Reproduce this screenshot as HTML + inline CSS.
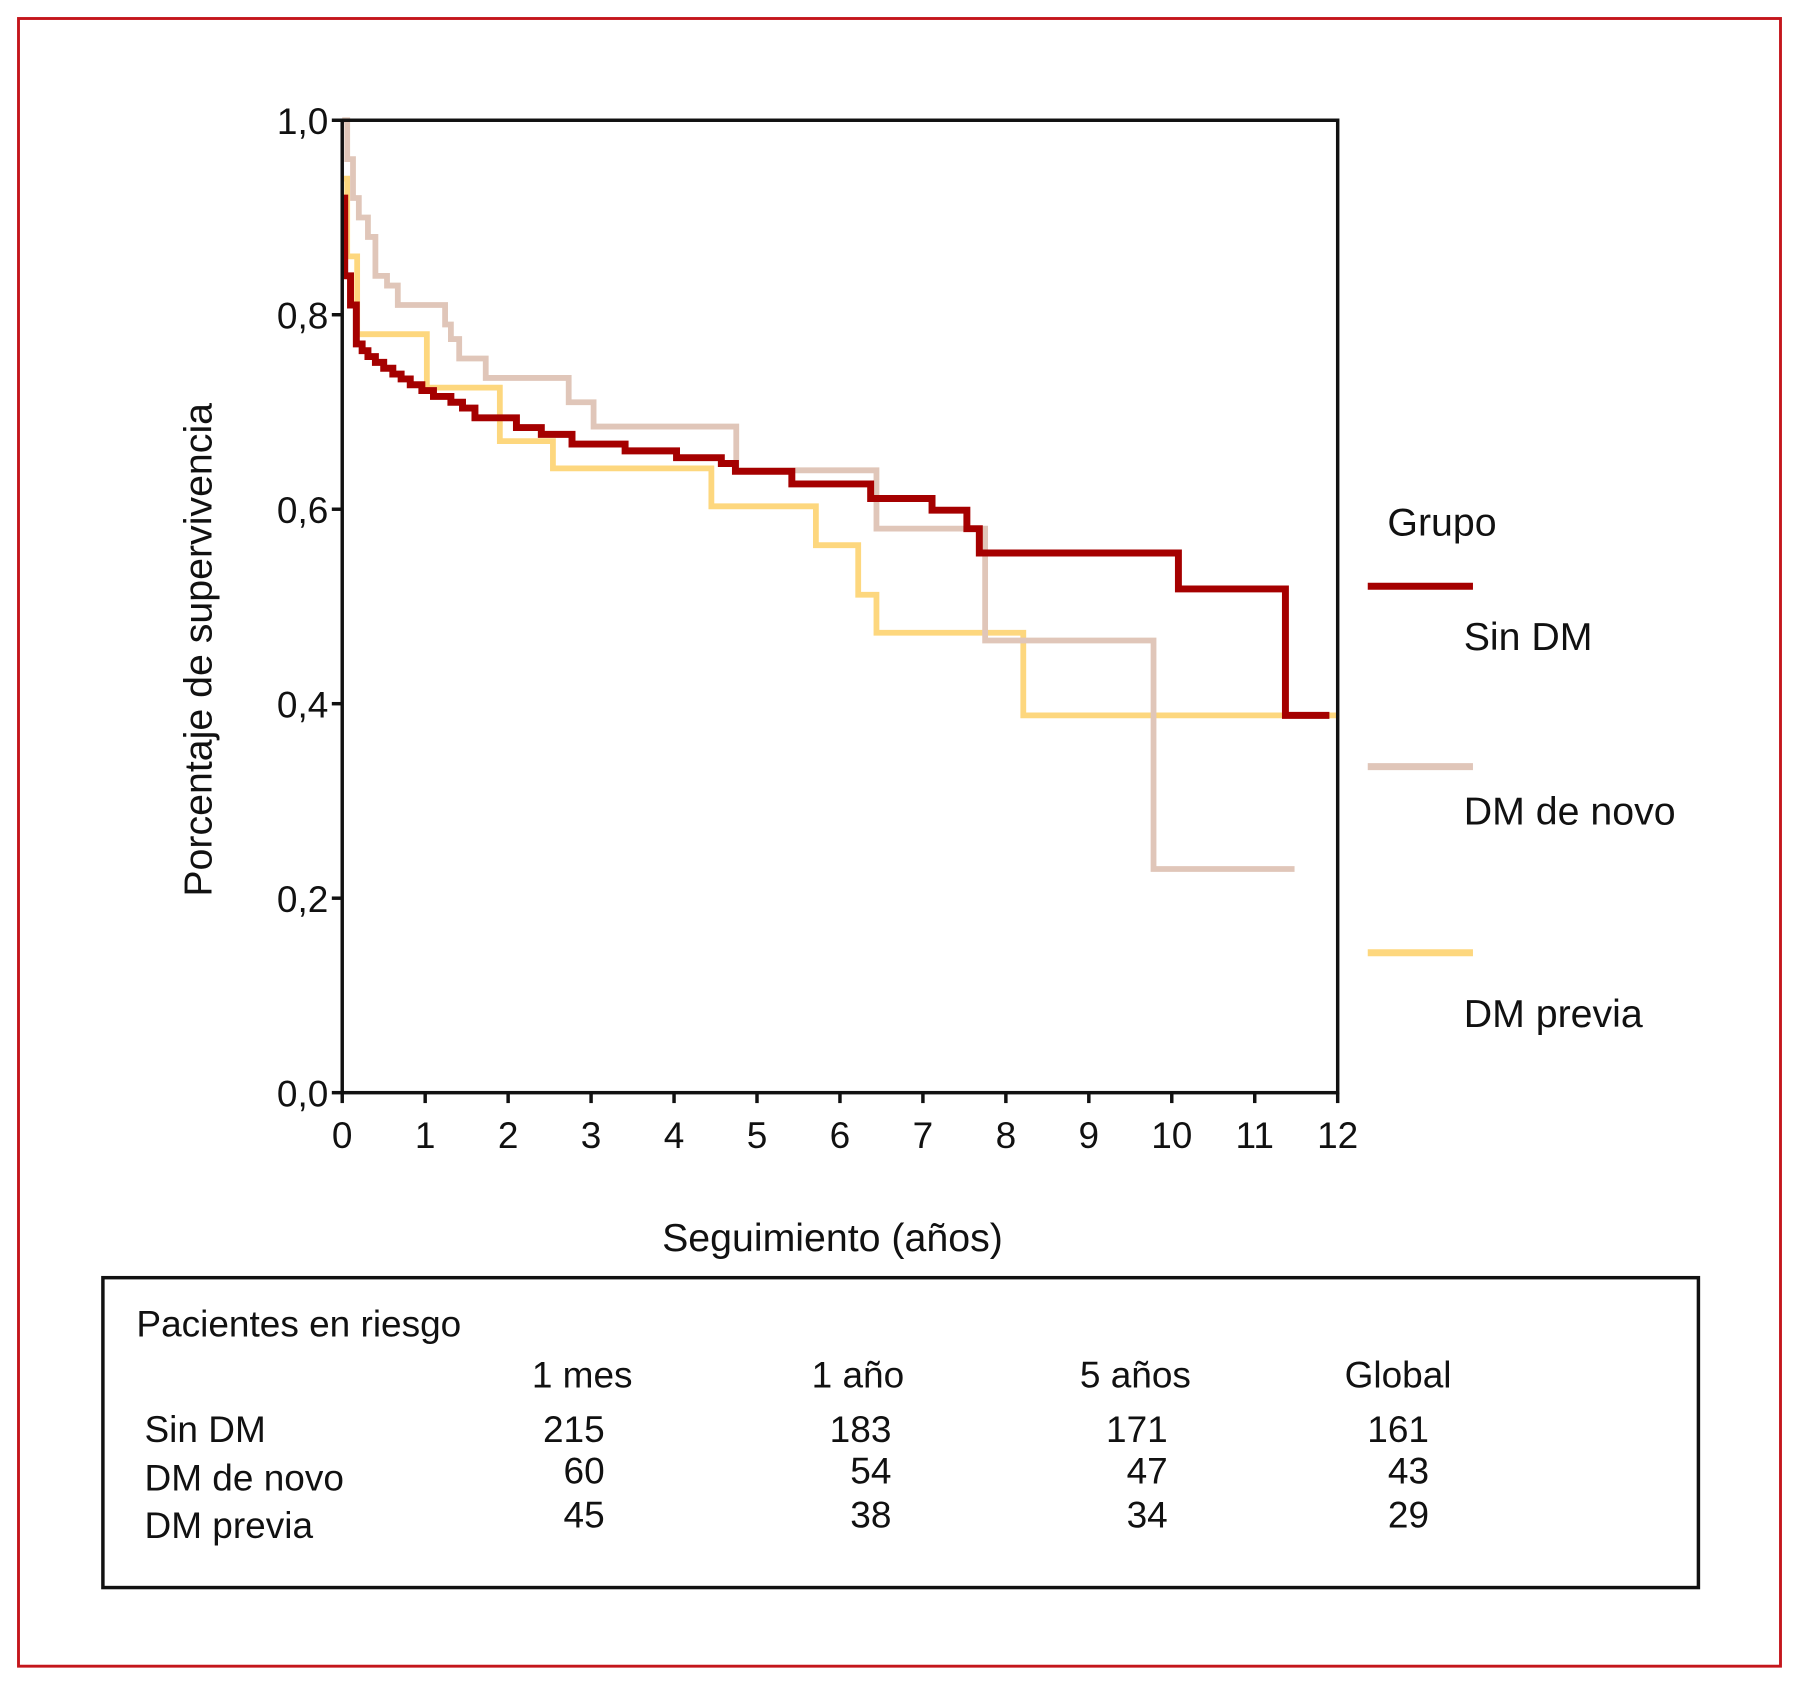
<!DOCTYPE html>
<html><head><meta charset="utf-8"><style>
html,body{margin:0;padding:0;background:#fff;}
svg{display:block;}
text{font-family:"Liberation Sans Narrow","Liberation Sans",sans-serif;fill:#111;}
</style></head><body>
<svg id="chart" width="1799" height="1687" viewBox="0 0 1556 1459" preserveAspectRatio="none" xmlns="http://www.w3.org/2000/svg">
<rect x="16" y="16" width="1524" height="1425" fill="#fff" stroke="#c4161c" stroke-width="2.5"/>
<g id="plot"></g>
<text transform="translate(183,562) rotate(-90)" text-anchor="middle" font-size="34">Porcentaje de supervivencia</text>
<text x="720" y="1082" text-anchor="middle" font-size="34">Seguimiento (años)</text>
<g font-size="34">
<text x="1200" y="463">Grupo</text>
<line x1="1183" y1="507" x2="1274" y2="507" stroke="#a50000" stroke-width="6"/>
<text x="1266" y="562">Sin DM</text>
<line x1="1183" y1="663" x2="1274" y2="663" stroke="#e0c6b9" stroke-width="6"/>
<text x="1266" y="713">DM de novo</text>
<line x1="1183" y1="824" x2="1274" y2="824" stroke="#fdd77e" stroke-width="6"/>
<text x="1266" y="888">DM previa</text>
</g>
<g font-size="32">
<rect x="89" y="1105" width="1380" height="268" fill="none" stroke="#111" stroke-width="3"/>
<text x="118" y="1156">Pacientes en riesgo</text>
<text x="460" y="1200">1 mes</text>
<text x="702" y="1200">1 año</text>
<text x="934" y="1200">5 años</text>
<text x="1163" y="1200">Global</text>
<text x="125" y="1247">Sin DM</text>
<text x="125" y="1289">DM de novo</text>
<text x="125" y="1330">DM previa</text>
<g text-anchor="end">
<text x="523" y="1247">215</text>
<text x="771" y="1247">183</text>
<text x="1010" y="1247">171</text>
<text x="1236" y="1247">161</text>
<text x="523" y="1283">60</text>
<text x="771" y="1283">54</text>
<text x="1010" y="1283">47</text>
<text x="1236" y="1283">43</text>
<text x="523" y="1321">45</text>
<text x="771" y="1321">38</text>
<text x="1010" y="1321">34</text>
<text x="1236" y="1321">29</text>
</g>
</g>
</svg>
<script>
const xTicks = [0,1,2,3,4,5,6,7,8,9,10,11,12];
const yTicks = [0,0.2,0.4,0.6,0.8,1.0];
const yTickLabels = ["0,0","0,2","0,4","0,6","0,8","1,0"];
const sinDmTimes = [0,0.03,0.1,0.17,0.24,0.31,0.4,0.5,0.61,0.71,0.82,0.96,1.1,1.31,1.45,1.6,2.1,2.4,2.77,3.41,4.03,4.57,4.74,5.42,6.37,7.11,7.53,7.68,10.08,11.37];
const sinDmValues = [0.92,0.84,0.81,0.77,0.763,0.757,0.751,0.745,0.739,0.734,0.728,0.722,0.716,0.71,0.704,0.694,0.684,0.677,0.667,0.66,0.653,0.647,0.639,0.626,0.611,0.599,0.58,0.555,0.518,0.388];
const sinDmEnd = 11.9;
const novoTimes = [0,0.06,0.13,0.2,0.31,0.4,0.54,0.67,1.24,1.31,1.41,1.73,2.73,3.03,4.75,6.44,7.75,9.78];
const novoValues = [1.0,0.96,0.92,0.9,0.88,0.84,0.83,0.81,0.79,0.775,0.755,0.735,0.71,0.685,0.64,0.58,0.465,0.23];
const novoEnd = 11.48;
const previaTimes = [0,0.06,0.18,1.02,1.9,2.54,4.45,5.71,6.22,6.44,8.21];
const previaValues = [0.94,0.86,0.78,0.725,0.67,0.642,0.603,0.563,0.512,0.473,0.388];
const previaEnd = 12;

const NS = "http://www.w3.org/2000/svg";
const X0 = 296, X1 = 1157, Y0 = 945, Y1 = 104;
const sx = t => X0 + (t/12)*(X1-X0);
const sy = v => Y0 - v*(Y0-Y1);
const plot = document.getElementById('plot');
function mk(tag, attrs){ const e=document.createElementNS(NS,tag); for(const k in attrs) e.setAttribute(k,attrs[k]); return e; }

function stepPath(times, vals, end){
  let d = "M"+sx(times[0])+","+sy(vals[0]);
  for(let i=1;i<times.length;i++){ d += " H"+sx(times[i])+" V"+sy(vals[i]); }
  d += " H"+sx(end);
  return d;
}
const series = [
  [previaTimes, previaValues, previaEnd, "#fdd77e", 5, "series-dm-previa"],
  [novoTimes, novoValues, novoEnd, "#e0c6b9", 5, "series-dm-de-novo"],
  [sinDmTimes, sinDmValues, sinDmEnd, "#a50000", 6, "series-sin-dm"]
];
series.forEach(s=>{
  const p = mk('path',{d:stepPath(s[0],s[1],s[2]),fill:'none',stroke:s[3],'stroke-width':s[4],'stroke-linejoin':'miter'});
  
  
  plot.appendChild(p);
});
// frame
const fr = mk('rect',{x:X0,y:Y1,width:X1-X0,height:Y0-Y1,fill:'none',stroke:'#111','stroke-width':3});


plot.appendChild(fr);
xTicks.forEach(t=>{
  const l = mk('line',{x1:sx(t),x2:sx(t),y1:Y0,y2:Y0+9,stroke:'#111','stroke-width':3});
  
  
  plot.appendChild(l);
  const tx = mk('text',{x:sx(t),y:993,'text-anchor':'middle','font-size':32});
  
  
  tx.textContent = String(t);
  plot.appendChild(tx);
});
yTicks.forEach((v,i)=>{
  const l = mk('line',{x1:X0-9,x2:X0,y1:sy(v),y2:sy(v),stroke:'#111','stroke-width':3});
  
  
  plot.appendChild(l);
  const tx = mk('text',{x:X0-12,y:sy(v)+12,'text-anchor':'end','font-size':32});
  
  
  tx.textContent = yTickLabels[i];
  plot.appendChild(tx);
});
</script>
</body></html>
